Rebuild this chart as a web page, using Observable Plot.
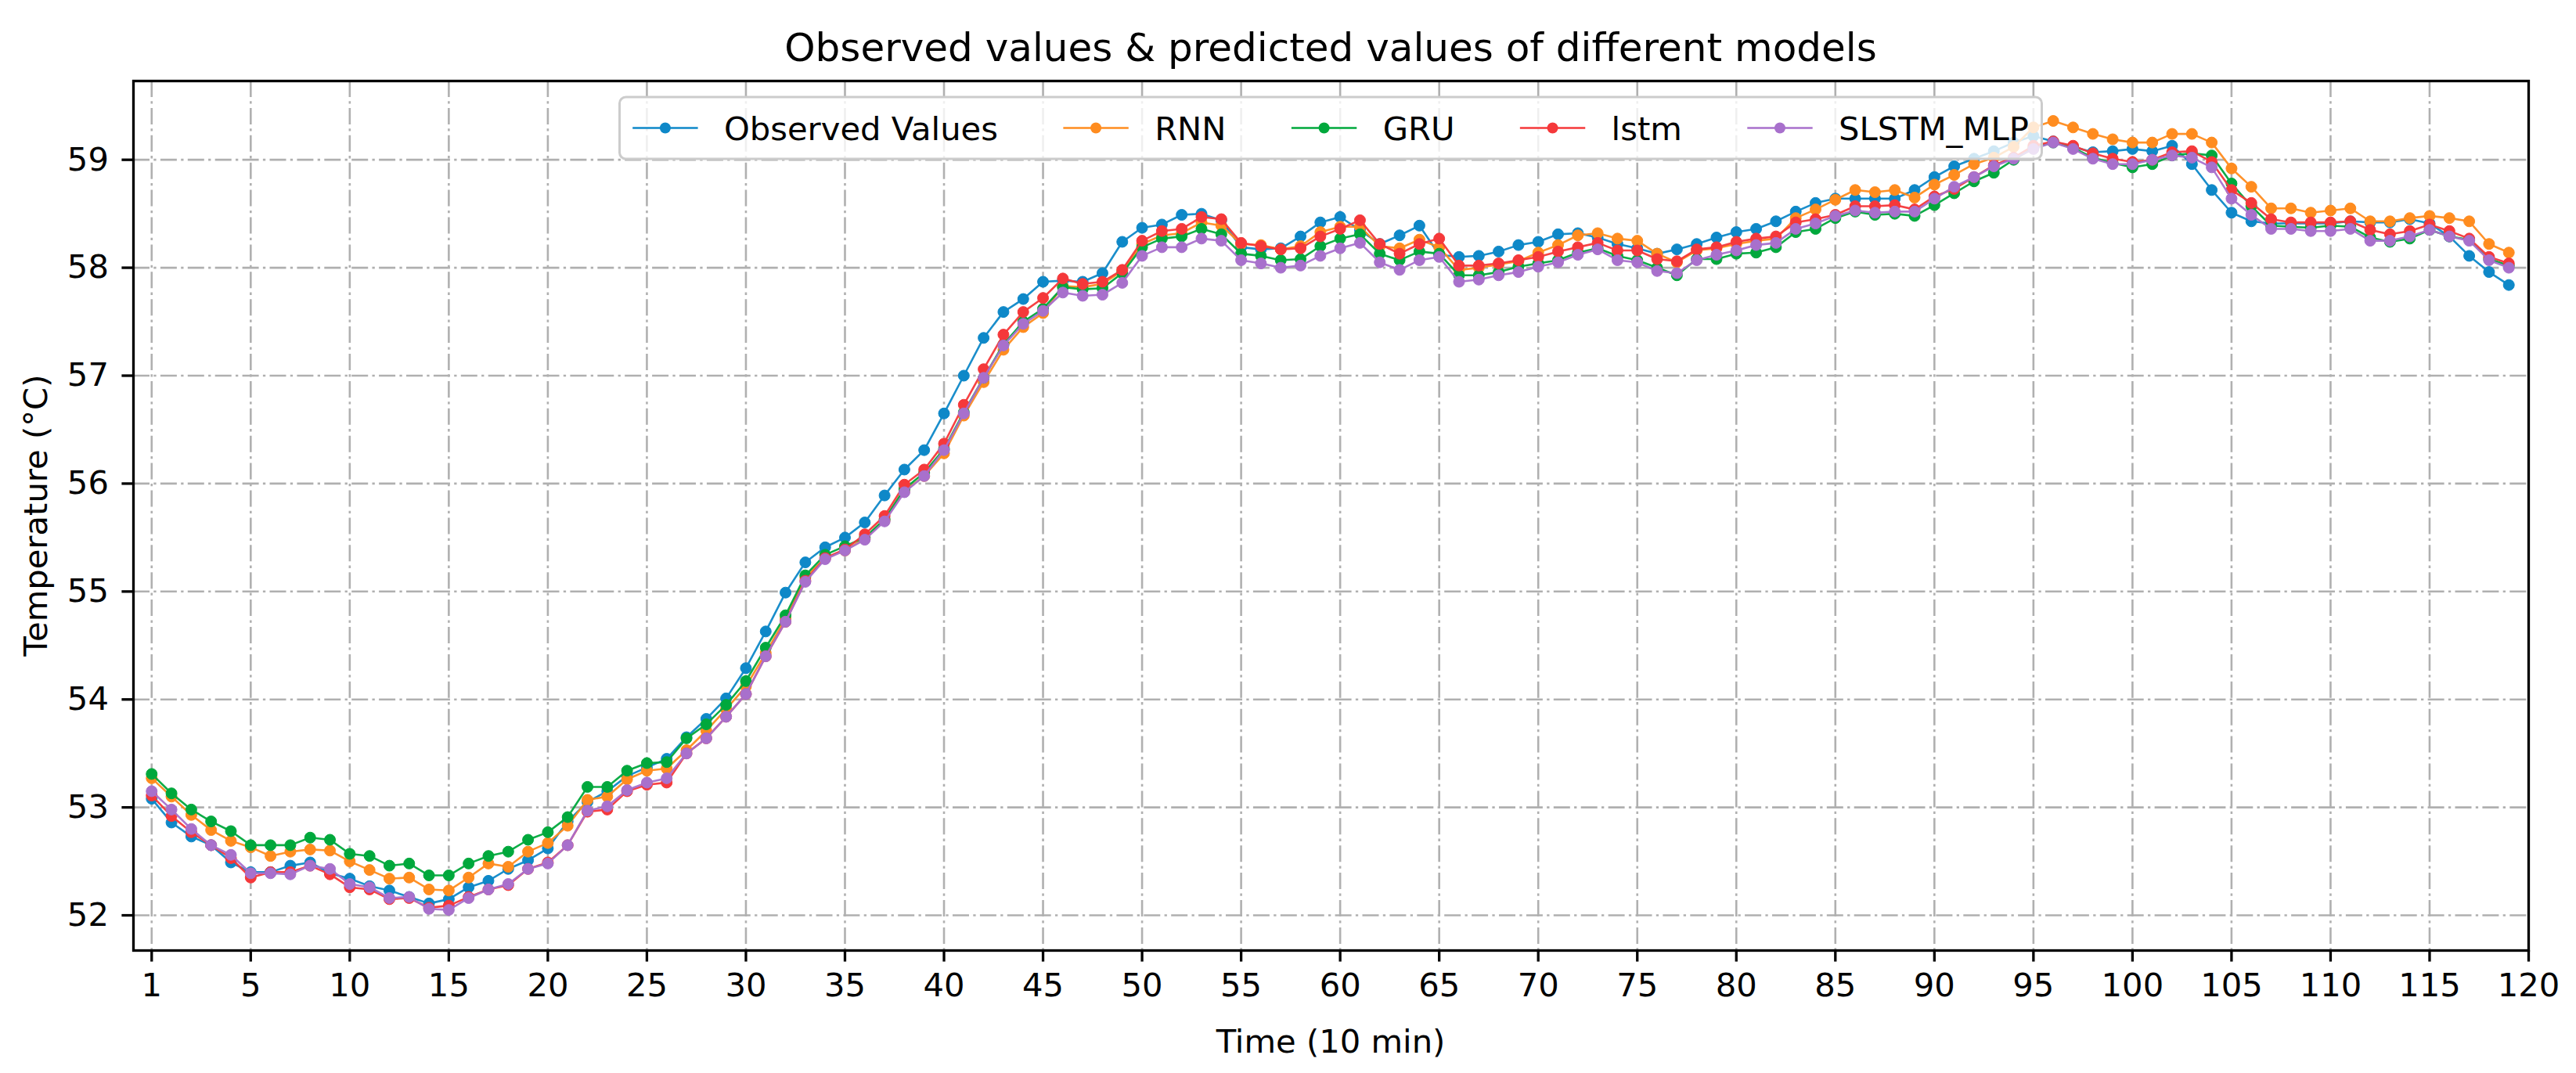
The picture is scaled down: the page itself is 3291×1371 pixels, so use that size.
<!DOCTYPE html>
<html>
<head>
<meta charset="utf-8">
<script src="https://cdn.jsdelivr.net/npm/d3@7"></script>
<script src="https://cdn.jsdelivr.net/npm/@observablehq/plot@0.6"></script>
<style>
  html, body { margin: 0; padding: 0; background: #ffffff; }
  #chart { width: 3291px; height: 1371px; }
</style>
</head>
<body>
<div id="chart"></div>
<script>
// ---------------- data ----------------
const seriesNames = ["Observed Values", "RNN", "GRU", "lstm", "SLSTM_MLP"];
const seriesColors = ["#0e88c8", "#ff8c1f", "#00a83c", "#f5383a", "#a870cc"];

const xTickValues = [0,5,10,15,20,25,30,35,40,45,50,55,60,65,70,75,80,85,90,95,100,105,110,115,120];
const xTickLabels = ["1","5","10","15","20","25","30","35","40","45","50","55","60","65","70","75","80","85","90","95","100","105","110","115","120"];
const yTickValues = [52,53,54,55,56,57,58,59];

const observed = [
53.08,52.86,52.73,52.65,52.49,52.40,52.40,52.46,52.49,52.39,
52.34,52.27,52.23,52.17,52.11,52.15,52.26,52.32,52.43,52.51,
52.62,52.87,53.05,53.15,53.29,53.37,53.45,53.65,53.82,54.01,
54.29,54.63,54.99,55.27,55.41,55.50,55.64,55.89,56.13,56.31,
56.65,57.00,57.35,57.59,57.71,57.87,57.88,57.87,57.95,58.24,
58.37,58.40,58.49,58.50,58.44,58.19,58.17,58.18,58.29,58.42,
58.47,58.35,58.22,58.30,58.39,58.12,58.10,58.11,58.15,58.21,
58.24,58.31,58.32,58.28,58.22,58.18,58.13,58.17,58.22,58.28,
58.33,58.36,58.43,58.52,58.60,58.64,58.64,58.64,58.64,58.72,
58.84,58.94,59.01,59.08,59.16,59.22,59.17,59.12,59.07,59.08,
59.10,59.08,59.13,58.96,58.72,58.51,58.43,58.41,58.41,58.41,
58.41,58.43,58.42,58.42,58.45,58.41,58.29,58.11,57.96,57.84];

const rnn = [
53.27,53.10,52.93,52.79,52.69,52.63,52.55,52.59,52.61,52.60,
52.50,52.42,52.34,52.35,52.24,52.23,52.35,52.48,52.45,52.59,
52.67,52.83,53.07,53.10,53.26,53.34,53.36,53.53,53.71,53.91,
54.12,54.43,54.75,55.13,55.31,55.38,55.49,55.66,55.93,56.07,
56.28,56.63,56.94,57.24,57.45,57.58,57.83,57.82,57.85,57.97,
58.22,58.30,58.32,58.42,58.39,58.22,58.21,58.17,58.20,58.33,
58.38,58.38,58.20,58.18,58.26,58.19,57.98,58.00,58.03,58.06,
58.14,58.21,58.30,58.32,58.27,58.25,58.13,58.05,58.16,58.18,
58.22,58.25,58.27,58.46,58.54,58.63,58.72,58.70,58.72,58.65,
58.77,58.86,58.96,59.02,59.12,59.30,59.36,59.30,59.24,59.19,
59.16,59.16,59.24,59.24,59.16,58.92,58.75,58.55,58.55,58.51,
58.53,58.55,58.43,58.43,58.46,58.48,58.46,58.43,58.22,58.14];

const gru = [
53.31,53.13,52.98,52.87,52.78,52.65,52.65,52.65,52.72,52.70,
52.57,52.55,52.46,52.48,52.37,52.37,52.48,52.55,52.59,52.70,
52.77,52.91,53.19,53.19,53.34,53.41,53.42,53.64,53.77,53.95,
54.17,54.48,54.78,55.15,55.34,55.42,55.50,55.67,55.95,56.10,
56.32,56.66,56.98,57.29,57.50,57.62,57.82,57.80,57.81,57.95,
58.19,58.27,58.29,58.36,58.31,58.13,58.11,58.07,58.08,58.20,
58.27,58.31,58.13,58.07,58.15,58.13,57.93,57.93,57.96,58.01,
58.04,58.07,58.14,58.18,58.11,58.07,58.00,57.93,58.08,58.08,
58.13,58.14,58.19,58.33,58.36,58.46,58.52,58.49,58.50,58.48,
58.58,58.69,58.80,58.88,59.00,59.11,59.16,59.11,59.02,58.97,
58.93,58.96,59.04,59.06,59.04,58.78,58.57,58.39,58.38,58.37,
58.39,58.38,58.28,58.24,58.27,58.35,58.29,58.26,58.08,58.02];

const lstm = [
53.11,52.92,52.77,52.65,52.53,52.35,52.40,52.40,52.46,52.38,
52.26,52.24,52.15,52.16,52.07,52.09,52.17,52.24,52.28,52.43,
52.49,52.65,52.96,52.98,53.15,53.21,53.23,53.50,53.64,53.84,
54.05,54.40,54.72,55.10,55.31,55.39,55.53,55.70,55.99,56.13,
56.37,56.73,57.06,57.38,57.59,57.72,57.90,57.85,57.87,57.98,
58.25,58.34,58.36,58.47,58.45,58.23,58.20,58.17,58.18,58.29,
58.36,58.44,58.22,58.13,58.22,58.27,58.02,58.02,58.04,58.07,
58.10,58.15,58.19,58.23,58.16,58.16,58.08,58.06,58.17,58.19,
58.24,58.27,58.29,58.42,58.45,58.49,58.57,58.57,58.58,58.54,
58.66,58.73,58.84,58.95,59.02,59.13,59.17,59.13,59.06,59.01,
58.98,59.00,59.07,59.08,58.98,58.72,58.60,58.45,58.42,58.42,
58.42,58.43,58.35,58.31,58.34,58.40,58.34,58.27,58.10,58.04];

const slstmMlp = [
53.15,52.98,52.80,52.65,52.56,52.39,52.39,52.38,52.46,52.43,
52.29,52.26,52.16,52.17,52.06,52.05,52.16,52.24,52.29,52.43,
52.48,52.65,52.97,53.01,53.16,53.23,53.27,53.50,53.64,53.84,
54.05,54.40,54.72,55.09,55.30,55.38,55.48,55.65,55.92,56.07,
56.31,56.65,56.98,57.28,57.48,57.60,57.77,57.74,57.75,57.86,
58.11,58.19,58.19,58.27,58.25,58.07,58.04,58.00,58.02,58.11,
58.18,58.23,58.05,57.98,58.07,58.10,57.87,57.89,57.93,57.96,
58.01,58.05,58.12,58.17,58.07,58.05,57.97,57.95,58.07,58.12,
58.16,58.21,58.23,58.36,58.41,58.48,58.53,58.51,58.52,58.52,
58.64,58.75,58.84,58.94,59.01,59.10,59.16,59.10,59.01,58.96,
58.96,59.00,59.04,59.02,58.93,58.64,58.49,58.36,58.36,58.34,
58.34,58.36,58.25,58.25,58.29,58.35,58.29,58.25,58.07,58.00];

const titleText = "Observed values & predicted values of different models";
const xLabelText = "Time (10 min)";
const yLabelText = "Temperature (°C)";

// ---------------- layout ----------------
const W = 3291, H = 1371;
const mL = 170, mR = W - 3230, mT = 103, mB = H - 1214;
const FS = 41.7;           // 10pt @ 300dpi
const FONT = "DejaVu Sans, Liberation Sans, sans-serif";
const DOT_R = 7;
const LINE_W = 2.6;

const allSeries = [observed, rnn, gru, lstm, slstmMlp];
const table = [];
allSeries.forEach((vals, si) => {
  vals.forEach((v, i) => table.push({series: seriesNames[si], t: i, value: v}));
});

const gridStyle = {stroke: "#b0b0b0", strokeOpacity: 1, strokeWidth: 2.6, strokeDasharray: "21,5.3,3.3,5.3"};

const marks = [
  Plot.gridX({ticks: xTickValues, ...gridStyle}),
  Plot.gridY({ticks: yTickValues, ...gridStyle}),
];
seriesNames.forEach((name, si) => {
  const rows = table.filter(d => d.series === name);
  marks.push(Plot.line(rows, {x: "t", y: "value", stroke: seriesColors[si], strokeWidth: LINE_W, strokeOpacity: 0.95}));
  marks.push(Plot.dot(rows, {x: "t", y: "value", fill: seriesColors[si], stroke: seriesColors[si], strokeWidth: 1, r: DOT_R}));
});
marks.push(Plot.frame({stroke: "#000", strokeWidth: 3.3}));
marks.push(Plot.axisX({ticks: xTickValues, tickFormat: d => xTickLabels[xTickValues.indexOf(d)], tickSize: 14.6, tickPadding: 14, strokeWidth: 3.3, label: null, fill: "#000"}));
marks.push(Plot.axisY({ticks: yTickValues, tickFormat: d => String(d), tickSize: 14.6, tickPadding: 17, strokeWidth: 3.3, label: null, fill: "#000"}));

const chart = Plot.plot({
  width: W, height: H,
  marginLeft: mL, marginRight: mR, marginTop: mT, marginBottom: mB,
  x: {domain: [-0.92, 120]},
  y: {domain: [51.674, 59.73]},
  style: {fontFamily: FONT, fontSize: FS + "px", background: "#fff", color: "#000", overflow: "visible"},
  marks
});
document.getElementById("chart").appendChild(chart);

// ---------------- texts & legend ----------------
const svg = d3.select(chart);
const cx = (mL + (W - mR)) / 2;
const cy = (mT + (H - mB)) / 2;

svg.append("text").attr("x", cx).attr("y", 78).attr("text-anchor", "middle")
  .attr("font-family", FONT).attr("font-size", 50).attr("fill", "#000").text(titleText);
svg.append("text").attr("x", cx).attr("y", 1345).attr("text-anchor", "middle")
  .attr("font-family", FONT).attr("font-size", FS).attr("fill", "#000").text(xLabelText);
svg.append("text").attr("transform", `translate(60,${cy}) rotate(-90)`).attr("text-anchor", "middle")
  .attr("font-family", FONT).attr("font-size", FS).attr("fill", "#000").text(yLabelText);

// legend (matplotlib-style: upper center, 5 columns)
const em = FS;
const handleLen = 2 * em, handlePad = 0.8 * em, colSpace = 2 * em, borderPad = 0.4 * em;
const legTop = 124, legH = 79;
const lg = svg.append("g").attr("text-anchor", "start");
const box = lg.append("rect");
const entries = lg.append("g");
let x = 0;
seriesNames.forEach((name, si) => {
  const g = entries.append("g");
  const ty = legTop + legH / 2;
  g.append("line").attr("x1", x).attr("x2", x + handleLen).attr("y1", ty).attr("y2", ty)
    .attr("stroke", seriesColors[si]).attr("stroke-width", LINE_W);
  g.append("circle").attr("cx", x + handleLen / 2).attr("cy", ty).attr("r", DOT_R)
    .attr("fill", seriesColors[si]);
  const t = g.append("text").attr("x", x + handleLen + handlePad).attr("y", ty + 0.36 * em)
    .attr("text-anchor", "start")
    .attr("font-family", FONT).attr("font-size", FS).attr("fill", "#000").text(name);
  const tw = t.node().getComputedTextLength();
  x += handleLen + handlePad + tw + colSpace;
});
const innerW = x - colSpace;
const boxW = innerW + 2 * borderPad;
const boxX = cx - boxW / 2;
entries.attr("transform", `translate(${boxX + borderPad},0)`);
box.attr("x", boxX).attr("y", legTop).attr("width", boxW).attr("height", legH)
  .attr("rx", 8).attr("ry", 8)
  .attr("fill", "#fff").attr("fill-opacity", 0.8)
  .attr("stroke", "#cccccc").attr("stroke-width", 3);
</script>
</body>
</html>
